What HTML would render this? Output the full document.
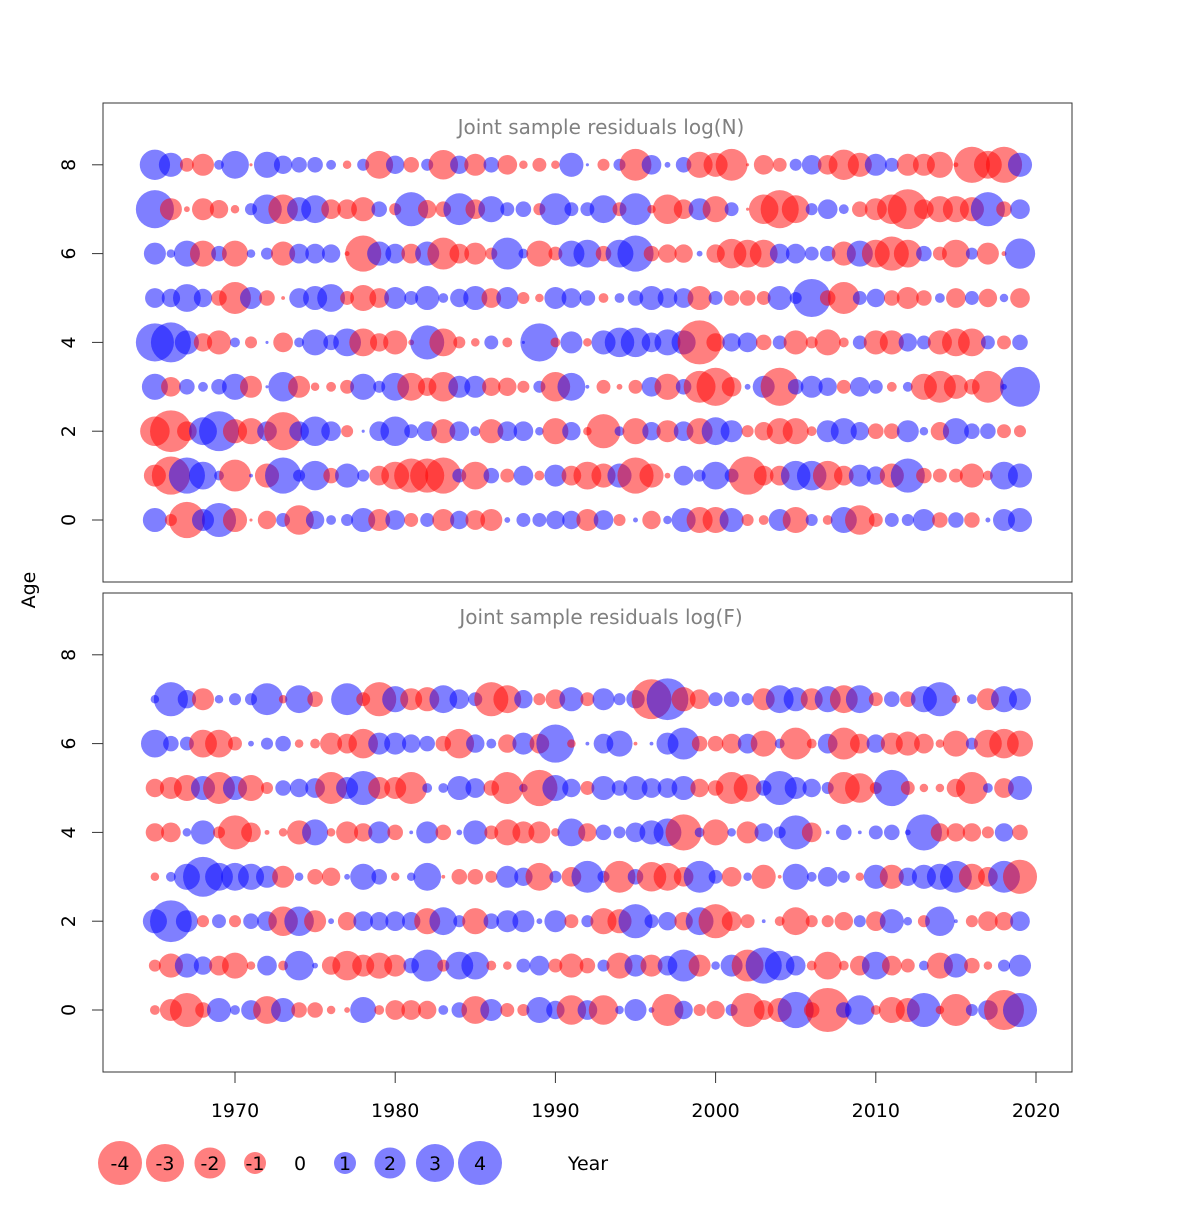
<!DOCTYPE html>
<html><head><meta charset="utf-8"><style>
html,body{margin:0;padding:0;background:#fff;}
svg text{font-family:"DejaVu Sans","Liberation Sans",sans-serif;}
</style></head><body>
<svg id="chart" width="1200" height="1200" viewBox="0 0 1200 1200" xmlns="http://www.w3.org/2000/svg">
<rect width="1200" height="1200" fill="#fff"/>
<g id="panels"></g>
<text x="0" y="0" transform="translate(35,590) rotate(-90)" text-anchor="middle" font-size="19">Age</text>
<text x="588" y="1170" text-anchor="middle" font-size="19">Year</text>
<g id="legend"></g>
</svg>
<script>
const years=[];for(let y=1965;y<=2019;y++)years.push(y);
const xTicks=[1970,1980,1990,2000,2010,2020];
const yTicks=[0,2,4,6,8];
const legendValues=[-4,-3,-2,-1,0,1,2,3,4];
// Top panel: log(N) residuals, by age
const nAge8=[1.9,1.2,-0.4,-1.0,0.2,1.6,-0.02,1.4,0.7,0.5,0.5,0.2,-0.15,0.3,-1.6,0.7,-0.5,0.3,-1.8,0.7,-1.0,0.5,-0.8,-0.15,-0.4,-0.15,1.2,0.02,-0.3,0.3,-2.1,0.8,0.07,0.5,-1.4,-1.2,-2.1,-0.02,-0.8,-0.4,0.3,0.8,-0.8,-1.9,-1.2,1.0,0.4,-1.0,-1.0,-1.4,-0.05,-2.7,-1.6,-2.7,1.2];
const nAge7=[3.0,-1.0,-0.07,-1.0,-0.7,-0.15,0.3,1.8,-1.8,1.2,1.6,-0.8,-0.8,-1.2,0.5,-0.3,2.4,-0.7,-0.5,2.1,-0.8,1.4,0.4,0.5,-0.3,2.1,0.4,0.4,1.6,-0.4,2.1,-0.15,-1.8,-0.8,1.0,-1.4,0.4,-0.02,-1.8,-3.0,-1.6,0.3,0.8,0.2,-0.5,-1.0,-1.8,-3.3,-0.8,-1.4,-1.4,-1.2,2.4,-0.5,0.8];
const nAge6=[1.0,0.15,1.4,-1.4,0.5,-1.4,0.15,0.3,-1.2,0.8,0.8,0.7,-0.05,-2.7,1.2,0.8,-0.8,1.2,-2.1,-0.8,-1.0,-0.3,2.1,0.2,-1.4,-0.4,1.4,1.6,-0.5,1.6,2.7,-0.5,-0.7,-0.7,0.07,-0.7,-1.8,-1.6,-1.6,0.8,0.8,0.4,0.5,-1.2,1.4,-1.6,-2.4,-1.6,0.5,-0.4,-1.6,0.3,-1.0,-0.05,1.9];
const nAge5=[0.8,0.7,1.6,0.7,-0.5,-2.1,1.0,-0.5,-0.03,0.8,1.2,1.6,-0.4,-1.4,-0.8,1.0,0.4,1.2,0.2,0.7,1.2,-0.8,1.0,-0.3,-0.15,1.0,0.8,0.5,-0.2,0.2,0.5,1.2,0.8,0.8,-1.2,0.4,-0.5,-0.5,-0.4,1.2,0.3,3.0,-0.5,-2.1,0.4,0.7,-0.5,-1.0,-0.5,0.2,-0.8,0.4,-0.7,0.15,-0.8];
const nAge4=[3.0,3.3,1.2,-0.7,-1.2,0.2,-0.3,0.02,-0.8,0.2,1.4,0.5,1.6,-1.6,-0.7,-1.2,-0.07,2.4,-1.6,-0.3,-0.15,0.4,-0.2,0.02,3.0,-0.2,1.0,-0.15,1.2,1.8,1.8,0.8,1.4,1.2,-4.0,-0.7,0.7,0.8,-0.5,0.4,-1.2,-0.3,-1.4,-0.2,0.4,-1.2,-1.2,0.7,0.4,-1.2,-1.6,-1.6,0.4,-0.4,0.5];
const nAge3=[1.4,-0.8,0.5,0.2,0.5,1.4,-1.0,0.02,1.8,-1.0,-0.15,-0.2,-0.4,1.4,0.3,1.6,-1.6,-0.7,-1.8,1.0,1.0,-0.7,-0.7,-0.3,0.3,-1.8,1.6,0.03,-0.4,-0.07,-0.4,0.8,-1.4,0.5,-2.1,-3.0,-0.8,0.07,1.0,-3.0,0.5,1.0,0.7,-0.4,0.8,0.4,-0.2,0.2,-1.4,-2.1,-1.2,-0.5,-2.1,0.07,3.3];
const nAge2=[-1.8,-3.6,-0.8,1.6,3.3,-1.2,-1.4,0.8,-3.0,0.8,1.8,0.8,-0.3,0.02,0.8,1.8,0.4,0.8,-1.2,0.8,0.2,-1.2,0.8,0.8,0.15,-1.4,0.7,-0.15,-2.4,0.2,-1.4,0.7,-1.0,0.8,-1.4,1.6,1.0,-0.3,-0.7,-1.4,-1.4,-0.2,1.0,1.4,0.7,-0.5,-0.5,1.0,0.15,-0.7,1.4,0.5,0.5,-0.4,-0.3];
const nAge1=[-1.0,-3.0,2.7,1.6,0.2,-2.1,0.03,-1.2,2.7,0.3,1.8,-0.5,1.2,0.3,-0.8,-1.6,-2.4,-2.4,-2.7,0.4,-1.6,0.5,-0.4,0.8,-0.2,1.0,-0.8,-1.6,-1.2,1.2,-2.7,-1.2,-0.07,0.8,0.3,1.6,0.4,-3.0,-0.8,-0.8,1.8,1.8,-1.8,-0.8,1.0,0.7,-1.2,2.4,-0.5,-0.4,-0.4,-1.2,-0.2,1.6,1.2];
const nAge0=[1.2,-0.3,-2.7,1.0,2.4,-1.2,-0.02,-0.7,0.4,-1.8,0.7,0.2,0.3,1.2,-1.0,0.8,-0.4,0.4,-1.0,0.7,-0.8,-1.0,0.07,0.4,0.4,0.7,0.7,-1.0,0.8,-0.3,0.05,-0.7,0.15,1.2,-1.4,-1.4,1.2,-0.3,-0.2,1.0,-1.4,0.3,-0.2,1.4,-1.8,-0.4,0.4,0.3,1.0,-0.5,0.5,-0.5,0.05,1.0,1.2];
// Bottom panel: log(F) residuals, by age
const fAge7=[0.15,2.4,0.7,-1.0,0.15,0.3,0.3,2.1,-0.15,1.6,-0.5,0,2.1,-0.4,-2.4,1.4,-1.0,-1.2,1.6,0.8,0.4,-2.4,-1.6,0.7,-0.3,-0.8,1.2,-0.4,1.0,0.3,0.7,-3.3,3.6,-1.2,-0.8,0.4,0.5,0.3,-1.0,1.6,1.2,-1.0,1.4,-1.6,1.6,-0.4,0.5,-0.5,1.4,2.4,-0.15,0.2,-1.0,1.4,1.0];
const fAge6=[1.6,0.5,0.4,-1.6,-1.6,-0.4,0.07,0.3,0.5,-0.15,-0.2,-1.0,-0.8,-1.8,1.0,1.0,0.7,0.5,-0.5,-1.8,0.7,0.2,-0.7,1.0,-0.8,3.0,-0.15,0.03,0.8,1.4,-0.03,0.03,1.0,2.1,-0.5,-0.5,-0.8,0.8,-1.4,0.2,-2.1,-0.2,0.8,-2.1,-0.8,0.7,-1.0,-1.2,-0.8,-0.15,-1.4,0.3,-1.6,-1.8,-1.4];
const fAge5=[-0.7,-1.0,-1.4,1.2,-2.1,1.2,-1.4,-0.3,0.5,0.7,0.8,-2.1,1.0,2.4,-1.0,-1.0,-2.1,0.2,0.2,1.2,0.8,-0.5,-2.1,0.15,-2.7,1.4,0.7,-0.4,1.2,0.5,1.2,0.8,0.8,1.2,-0.7,-0.5,-2.1,-1.6,0.5,2.4,1.0,0.7,0.3,-2.1,-1.8,-0.3,2.7,-0.4,-0.15,-0.15,-0.7,-2.1,0.2,-0.8,1.2];
const fAge4=[-0.7,-0.8,0.15,1.2,-0.3,-2.4,-0.8,-0.05,-0.15,-1.2,1.4,-0.15,-1.0,-0.7,1.0,-0.5,0.03,1.0,-0.5,0.07,1.2,-0.4,-1.4,-1.0,-1.0,-0.15,1.6,-0.7,0.5,0.3,0.8,1.2,1.6,-2.7,0.2,-1.4,0.15,-1.0,0.7,0.3,2.4,-0.8,0.03,0.5,0.03,0.4,0.5,0.07,2.7,-0.7,-0.7,-0.7,-0.3,0.7,-0.5];
const fAge3=[-0.15,0.2,1.4,3.3,1.6,1.6,1.4,1.0,-1.0,0.15,-0.5,-0.7,0.07,1.4,0.5,-0.15,0.15,1.6,-0.03,-0.5,-0.5,-0.3,1.0,0.7,-1.6,0.3,-0.8,2.1,0.3,-2.1,0.5,-1.8,-1.6,-0.8,2.1,0.4,-0.8,0.15,-1.2,-0.03,1.4,0.2,0.8,0.3,-0.15,1.2,-1.2,0.7,1.2,1.4,2.1,-1.4,-0.8,2.1,-2.4];
const fAge2=[1.2,3.6,1.0,-0.3,0.4,-0.3,0.5,0.8,-1.8,1.8,-1.0,0.07,-0.7,0.8,0.7,0.8,0.7,-1.4,1.6,0.3,-1.4,0.5,1.0,1.0,0.07,1.0,-0.4,0.3,-1.4,-1.2,2.4,0.4,0.7,-0.7,1.6,-2.4,-0.8,-0.4,0.03,-0.2,-1.6,-0.3,-0.3,-0.7,0.3,-0.8,1.2,0.15,-0.3,1.8,0.03,-0.3,-0.8,-0.7,0.8];
const fAge1=[-0.3,-1.2,1.2,0.7,-0.8,-1.4,-0.15,0.8,-0.2,1.8,0.07,-0.7,-1.8,-1.0,-1.4,-1.0,0.5,2.1,-0.3,1.6,1.6,-0.2,-0.15,0.4,0.8,-0.4,-1.2,-0.5,0.3,-1.4,1.0,-1.0,0.8,2.1,-1.0,0.15,1.0,-2.1,2.7,1.8,0.8,-0.2,-1.6,-0.2,-0.8,1.6,-0.8,-0.4,0.2,-1.4,1.2,-0.5,-0.15,0.3,1.0];
const fAge0=[-0.2,-1.0,-2.4,-0.5,1.2,0.2,0.8,-1.6,1.2,-0.5,-0.5,-0.15,-0.07,1.4,-0.2,-0.8,-0.8,-0.7,0.2,0.5,-1.6,1.0,-0.4,-0.3,1.4,0.7,-1.8,0.8,-1.8,0.15,1.0,0.07,-2.1,0.7,-0.3,-0.7,0.3,-2.4,-0.8,-1.2,2.7,-0.5,-4.0,0.5,1.8,-0.2,-1.4,-1.2,2.4,-0.15,-2.1,0.3,0.8,-3.3,2.4];
const topRows=[nAge0,nAge1,nAge2,nAge3,nAge4,nAge5,nAge6,nAge7,nAge8];
const botRows=[fAge0,fAge1,fAge2,fAge3,fAge4,fAge5,fAge6,fAge7];

const NS="http://www.w3.org/2000/svg";
const X0=103,X1=1072;
function xScale(yr){return 235+(yr-1970)*16.02;}
function rScale(v){return 11*Math.sqrt(Math.abs(v));}
function mk(tag,attrs,parent){const e=document.createElementNS(NS,tag);for(const k in attrs)e.setAttribute(k,attrs[k]);parent.appendChild(e);return e;}
const root=document.getElementById('panels');
function panel(top,bottom,y0,title,rows,name){
  const yScale=a=>y0-a*44.4;
  const g=mk('g',{},root);
  
  
  const box=mk('rect',{x:X0,y:top,width:X1-X0,height:bottom-top,fill:'none',stroke:'#333','stroke-width':1},g);
  
  
  const t=mk('text',{x:601,y:top+31,'text-anchor':'middle','font-size':20,fill:'#808080'},g);
  t.textContent=title;
  
  
  yTicks.forEach(a=>{
    const ty=yScale(a);
    const tk=mk('line',{x1:X0,x2:X0-11,y1:ty,y2:ty,stroke:'#333'},g);
    
    
    const tl=mk('text',{x:0,y:0,transform:`translate(75,${ty}) rotate(-90)`,'text-anchor':'middle','font-size':19},g);
    tl.textContent=a;
    
    
  });
  rows.forEach((vals,age)=>{
    vals.forEach((v,i)=>{
      if(v===0)return;
      const c=mk('circle',{cx:xScale(years[i]).toFixed(1),cy:yScale(age).toFixed(1),r:rScale(v).toFixed(2),fill:v<0?'rgba(255,0,0,0.5)':'rgba(0,0,255,0.5)'},g);
      
      
    });
  });
}
panel(103,582,520,'Joint sample residuals log(N)',topRows,'panel-log-n');
panel(593,1072,1010,'Joint sample residuals log(F)',botRows,'panel-log-f');
xTicks.forEach(yr=>{
  const x=xScale(yr);
  const tk=mk('line',{x1:x,x2:x,y1:1072,y2:1083,stroke:'#333'},root);
  
  
  const tl=mk('text',{x:x,y:1117,'text-anchor':'middle','font-size':19},root);
  tl.textContent=yr;
  
  
});
const lg=document.getElementById('legend');
legendValues.forEach((v,i)=>{
  const cx=120+i*45;
  if(v!==0){
    const c=mk('circle',{cx:cx,cy:1163,r:rScale(v),fill:v<0?'rgba(255,0,0,0.5)':'rgba(0,0,255,0.5)'},lg);
    
    
  }
  const t=mk('text',{x:cx,y:1170,'text-anchor':'middle','font-size':19},lg);
  t.textContent=v;
  
  
});
</script>
</body></html>
